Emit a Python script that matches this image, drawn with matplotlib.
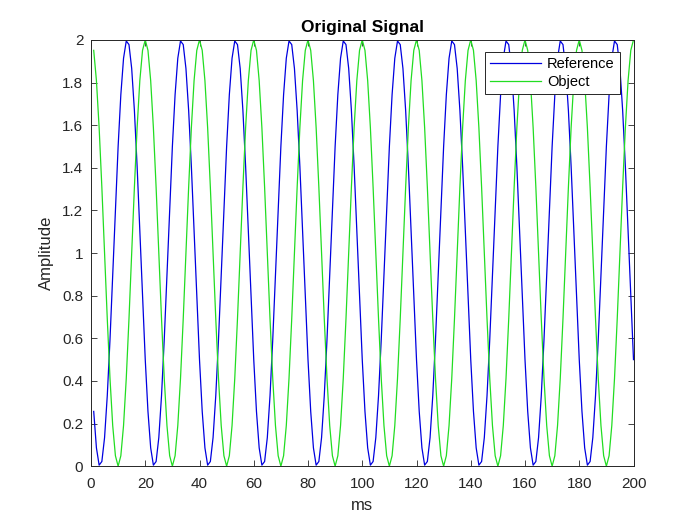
import matplotlib
matplotlib.use('Agg')

import numpy as np
import matplotlib.pyplot as plt


FILENAME = 'out.png'

# one 20 ms cycle of each signal, sampled every 1 ms (t = 1..20 ms)
reference_cycle = [0.257, 0.086, 0.005, 0.022, 0.134, 0.331, 0.593, 0.895, 1.208, 1.500,
                   1.743, 1.914, 1.995, 1.978, 1.866, 1.669, 1.407, 1.105, 0.792, 0.500]
object_cycle = [1.951, 1.809, 1.588, 1.309, 1.000, 0.691, 0.412, 0.191, 0.049, 0.000,
                0.049, 0.191, 0.412, 0.691, 1.000, 1.309, 1.588, 1.809, 1.951, 2.000]
n_cycles = 10

t_ms = np.arange(1, 20 * n_cycles + 1)
reference = np.tile(reference_cycle, n_cycles)
obj = np.tile(object_cycle, n_cycles)

plt.rcParams['font.family'] = ['Liberation Sans', 'DejaVu Sans']

fig = plt.figure(figsize=(7, 5.25), dpi=100)
ax = fig.add_axes([0.13, 0.112, 0.775, 0.812])

ax.plot(t_ms, reference, color='#0000e0', linewidth=0.9, label='Reference')
ax.plot(t_ms, obj, color='#22dd22', linewidth=0.9, label='Object')

ax.set_xlim(0, 200)
ax.set_ylim(0, 2)
ax.set_xticks(np.arange(0, 201, 20))
ax.set_yticks(np.arange(0, 2.01, 0.2))
ax.set_yticklabels(['0', '0.2', '0.4', '0.6', '0.8', '1', '1.2', '1.4', '1.6', '1.8', '2'])
ax.tick_params(direction='in', top=True, right=True, labelsize=11, length=4,
               width=0.6, colors='#262626', labelcolor='#262626')
ax.tick_params(axis='x', pad=8)
ax.tick_params(axis='y', pad=5.5)
for spine in ax.spines.values():
    spine.set_linewidth(0.7)
    spine.set_color('#262626')

ax.set_title('Original Signal', fontsize=12.5, fontweight='bold', pad=6)
ax.set_xlabel('ms', fontsize=12, color='#262626', labelpad=5)
ax.set_ylabel('Amplitude', fontsize=12, color='#262626', labelpad=6)

leg = ax.legend(loc='upper right', bbox_to_anchor=(0.975, 0.972), fontsize=10.5,
                fancybox=False, framealpha=1, edgecolor='#262626',
                handlelength=3.5, handletextpad=0.45, borderpad=0.35,
                labelspacing=0.3, borderaxespad=0)
leg.get_frame().set_linewidth(0.7)

plt.savefig(FILENAME)
